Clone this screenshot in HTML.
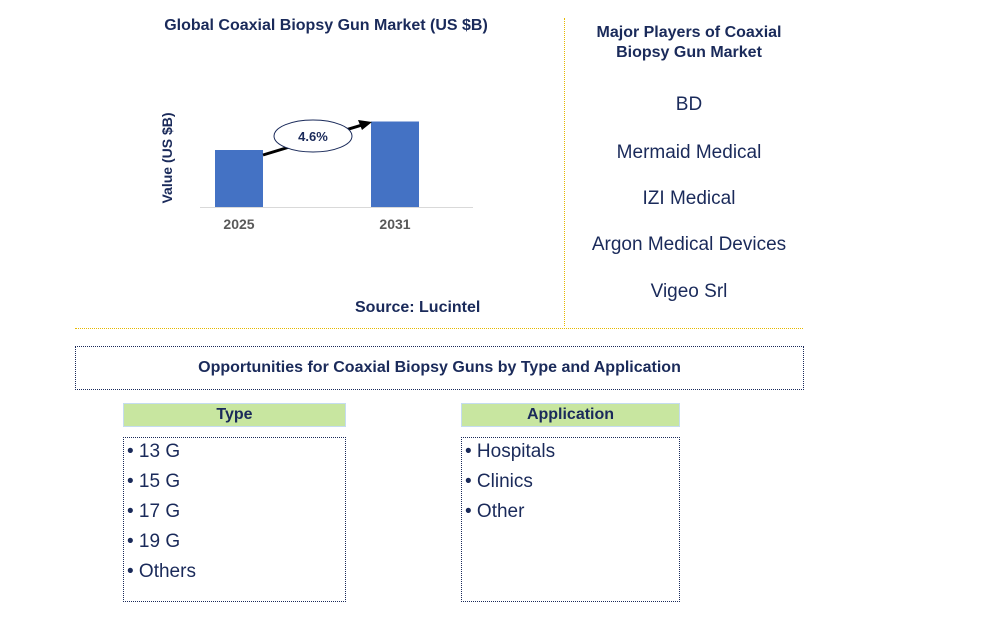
<!DOCTYPE html>
<html><head><meta charset="utf-8"><style>
body{margin:0;width:996px;height:622px;background:#fff;font-family:"Liberation Sans",sans-serif;position:relative;overflow:hidden}
.a{position:absolute}
.t{color:#1a2a5a;font-weight:bold}
.pl{position:absolute;left:566px;width:246px;text-align:center;color:#1a2a5a;font-size:19px}
.hd{position:absolute;height:22px;background:#c8e6a0;border:1px solid #c5dcf0;text-align:center;font-weight:bold;font-size:16px;color:#1a2a5a;line-height:22px}
.bx{position:absolute;border:1px dotted #1a2a5a}
.li{font-size:19px;color:#1a2a5a;height:30px;line-height:28px;padding-left:3px}
</style></head><body>
<div class="a t" style="left:126px;top:17px;width:400px;text-align:center;font-size:16px">Global Coaxial Biopsy Gun Market (US $B)</div>
<svg class="a" style="left:0;top:0" width="560" height="330">
<text transform="translate(172,158) rotate(-90)" text-anchor="middle" font-size="14" font-weight="bold" fill="#1a2a5a" font-family="Liberation Sans">Value (US $B)</text>
<line x1="200" y1="207.5" x2="473" y2="207.5" stroke="#d9d9d9"/>
<g id="bars"></g>
<line x1="263" y1="155" x2="362" y2="125" stroke="#000" stroke-width="3"/>
<polygon points="372,122 358,120 362,130" fill="#000"/>
<ellipse cx="313" cy="136" rx="39" ry="16" fill="#fff" stroke="#1a2a5a"/>
<text x="313" y="141" text-anchor="middle" font-size="13" font-weight="bold" fill="#1a2a5a" font-family="Liberation Sans">4.6%</text>
</svg>
<script>
const categories=["2025","2031"];
const values=[1.0,1.5];
const g=document.getElementById('bars');
const ns="http://www.w3.org/2000/svg";
const xPos=i=>215+i*156, yPos=v=>207-v*57;
categories.forEach((c,i)=>{
 const r=document.createElementNS(ns,'rect');
 
 
 r.setAttribute('x',xPos(i));r.setAttribute('width',48);
 r.setAttribute('y',yPos(values[i]));r.setAttribute('height',207-yPos(values[i]));
 r.setAttribute('fill','#4472c4');g.appendChild(r);
 const t=document.createElementNS(ns,'text');
 
 
 t.setAttribute('x',xPos(i)+24);t.setAttribute('y',229);t.setAttribute('text-anchor','middle');
 t.setAttribute('font-size','14');t.setAttribute('font-weight','bold');t.setAttribute('fill','#595959');
 t.setAttribute('font-family','Liberation Sans');t.textContent=c;g.appendChild(t);
});
</script>
<div class="a t" style="left:355px;top:299px;font-size:16px">Source: Lucintel</div>
<div class="a" style="left:564px;top:18px;height:308px;border-left:1px dotted #e6b800"></div>
<div class="a" style="left:75px;top:328px;width:728px;border-top:1px dotted #e6b800"></div>
<div class="pl t" style="top:23px;font-size:16px;line-height:20px">Major Players of Coaxial<br>Biopsy Gun Market</div>
<div class="pl" style="top:94px">BD</div>
<div class="pl" style="top:142px">Mermaid Medical</div>
<div class="pl" style="top:188px">IZI Medical</div>
<div class="pl" style="top:234px">Argon Medical Devices</div>
<div class="pl" style="top:281px">Vigeo Srl</div>
<div class="bx t" style="left:75px;top:346px;width:727px;height:42px;text-align:center;line-height:42px;font-size:16px">Opportunities for Coaxial Biopsy Guns by Type and Application</div>
<div class="hd" style="left:123px;top:403px;width:221px">Type</div>
<div class="bx" style="left:123px;top:437px;width:221px;height:163px">
<div class="li">• 13 G</div><div class="li">• 15 G</div><div class="li">• 17 G</div><div class="li">• 19 G</div><div class="li">• Others</div></div>
<div class="hd" style="left:461px;top:403px;width:217px">Application</div>
<div class="bx" style="left:461px;top:437px;width:217px;height:163px">
<div class="li">• Hospitals</div><div class="li">• Clinics</div><div class="li">• Other</div></div>
</body></html>
